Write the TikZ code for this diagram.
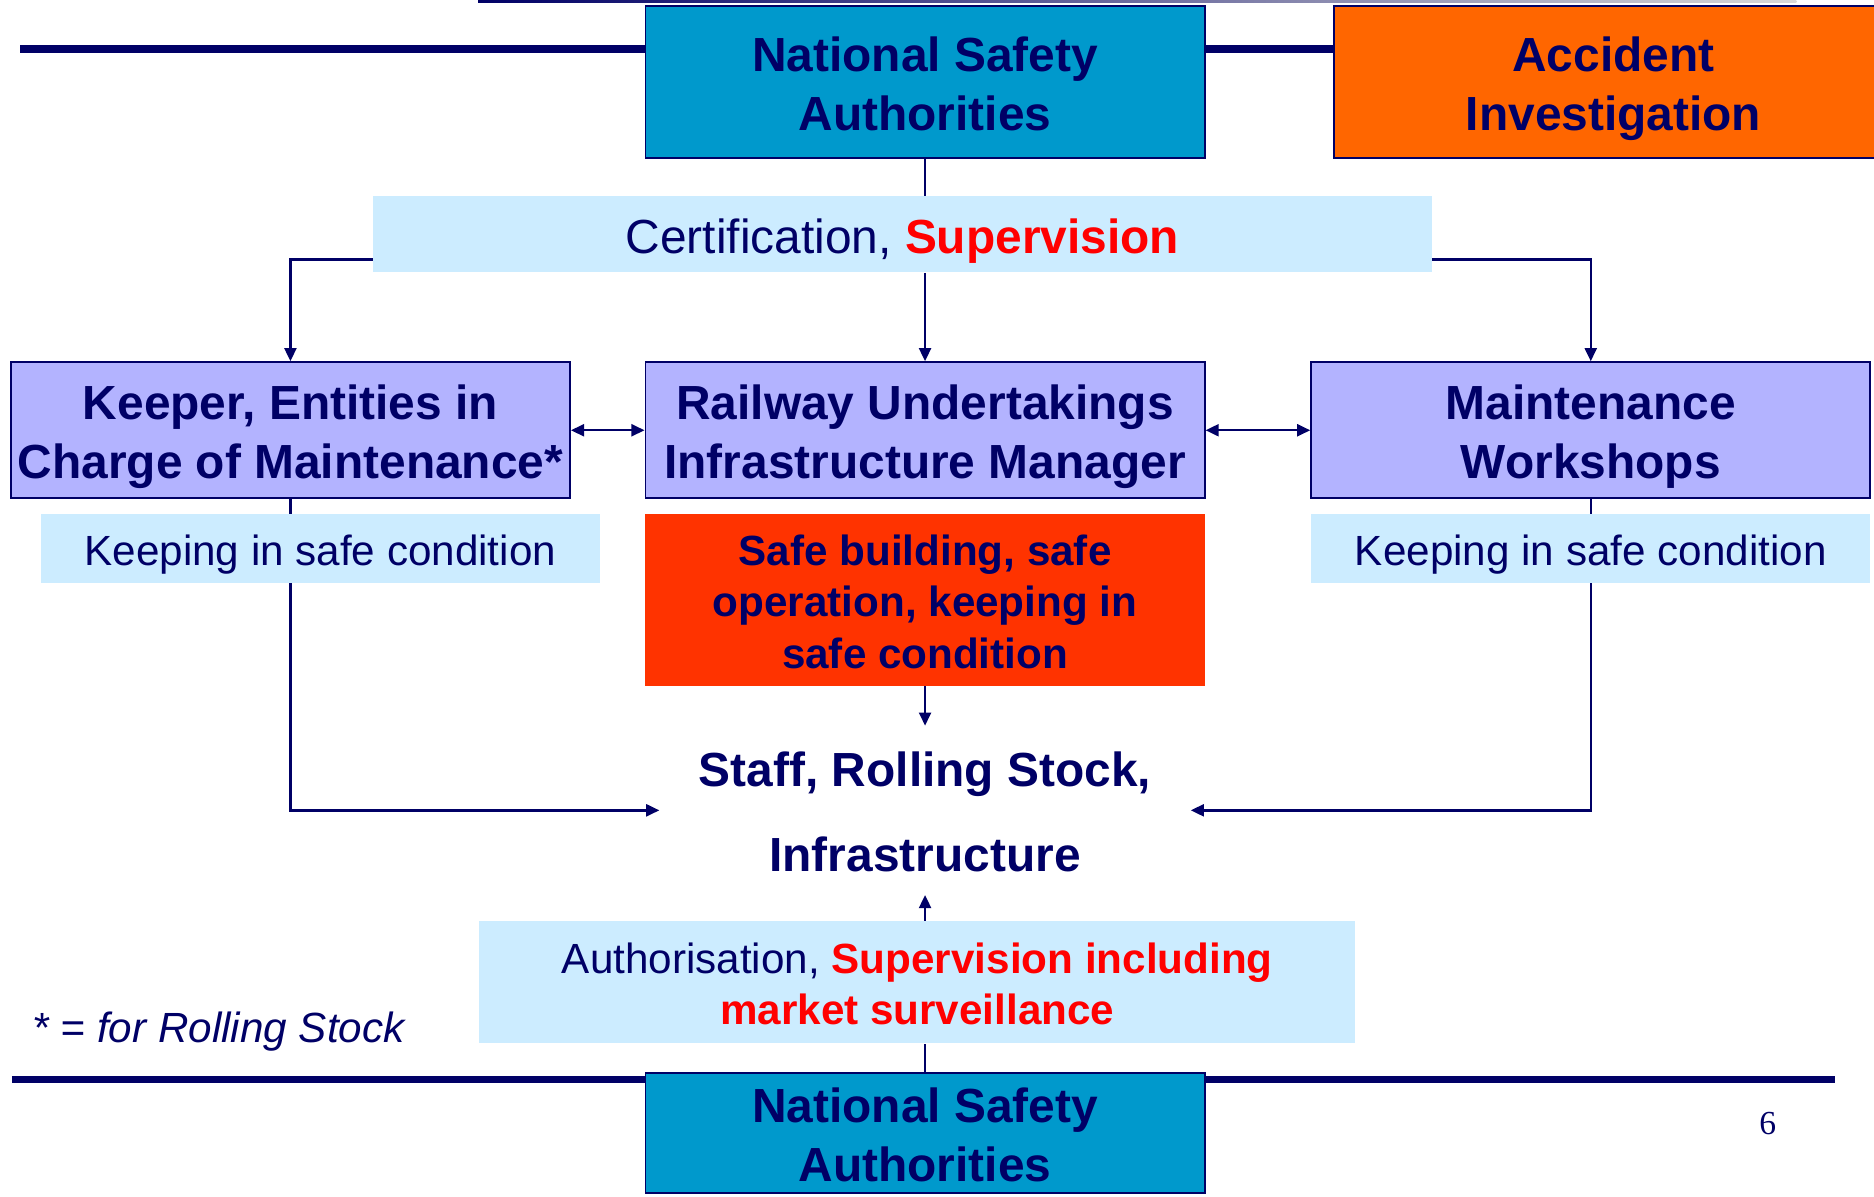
\documentclass[tikz,border=0pt]{standalone}
\usepackage{fontspec}
\setmainfont{Liberation Sans}
\newfontfamily\pagenumfont{Liberation Serif}
\usetikzlibrary{positioning,arrows.meta}

\definecolor{darknavy}{HTML}{000066}
\definecolor{nsablue}{HTML}{0099CC}
\definecolor{accorange}{HTML}{FF6600}
\definecolor{lilac}{HTML}{B3B3FF}
\definecolor{paleblue}{HTML}{CCECFF}
\definecolor{alertred}{HTML}{FF3300}
\definecolor{textred}{HTML}{FF0000}

\pgfdeclarelayer{background}
\pgfsetlayers{background,main}

\newcommand{\bigtext}{\fontsize{22.8}{27.9}\selectfont}
\newcommand{\smalltext}{\fontsize{20.1}{24.5}\selectfont}
\newcommand{\ls}{\rule[-0.21em]{0pt}{1.21em}}
\newcommand{\redbf}[1]{{\color{textred}\bfseries #1}}

\begin{document}
\begin{tikzpicture}[
    x=0.02cm, y=-0.02cm,
    every node/.style={
        align=center,
        inner sep=0pt,
        text=darknavy
    },
    authority/.style={draw=darknavy, line width=0.03cm, fill=nsablue, minimum width=9.36cm, font=\bigtext\bfseries},
    investigation/.style={draw=darknavy, line width=0.03cm, fill=accorange, minimum width=9.36cm, minimum height=2.54cm, font=\bigtext\bfseries},
    actor/.style={draw=darknavy, line width=0.03cm, fill=lilac, minimum width=9.36cm, minimum height=2.28cm, font=\bigtext\bfseries},
    task/.style={fill=paleblue, font=\smalltext},
    duty/.style={fill=alertred, minimum width=9.36cm, minimum height=2.88cm, font=\smalltext\bfseries},
    link/.style={line width=0.04cm, draw=darknavy},
    arrow/.style={link, -{Triangle[length=0.22cm, width=0.2cm]}},
    biarrow/.style={link, {Triangle[length=0.22cm, width=0.2cm]}-{Triangle[length=0.22cm, width=0.2cm]}},
    rule/.style={line width=0.12cm, draw=darknavy}
]
\useasboundingbox (0,0) rectangle (1568,1001);

% Top level
\node[authority, minimum height=2.54cm] (nsa) at (774,68.5) {\ls National Safety\\\ls Authorities};
\node[investigation] (acc) at (1350,68.5) {\ls Accident\\\ls Investigation};
\node[task, font=\bigtext, minimum width=17.72cm, minimum height=1.28cm] (cert) at (755,196) {\ls Certification, \redbf{Supervision}};

% Actors
\node[actor] (keeper) at (243,360) {\ls Keeper, Entities in\\\ls Charge of Maintenance*};
\node[actor] (ru) at (774,360) {\ls Railway Undertakings\\\ls Infrastructure Manager};
\node[actor] (maint) at (1331,360) {\ls Maintenance\\\ls Workshops};

% Tasks below the actors
\node[task, minimum width=9.36cm, minimum height=1.16cm] (keepleft) at (268,459) {\ls Keeping in safe condition};
\node[duty] (safe) at (774,502) {\ls Safe building, safe\\\ls operation, keeping in\\\ls safe condition};
\node[task, minimum width=9.36cm, minimum height=1.16cm] (keepright) at (1331,459) {\ls Keeping in safe condition};

% Object of the supervision
\node[minimum width=8.88cm, minimum height=2.82cm, font=\fontsize{22.8}{40.4}\selectfont\bfseries] (staff) at (774,678) {\ls Staff, Rolling Stock,\\\ls Infrastructure};

% Bottom level
\node[task, minimum width=14.66cm, minimum height=2.04cm] (auth) at (767.5,822) {\ls Authorisation, \redbf{Supervision including}\\\ls\redbf{market surveillance}};
\node[authority, minimum height=2cm] (nsabot) at (774,948) {\ls National Safety\\\ls Authorities};

\node[anchor=west, font=\smalltext\itshape] (note) at (27,858) {\ls * = for Rolling Stock};
\node[font=\fontsize{16}{18}\selectfont\pagenumfont] (pagenum) at (1479,940) {6};

\coordinate (topleft) at (17,41);
\coordinate (botleft) at (10,903);
\coordinate (botright) at (1535,903);

\begin{pgfonlayer}{background}
\shade[left color=darknavy, right color=black!15] (400,0) rectangle (1503,2.5);
\draw[rule] (topleft) -- (topleft -| nsa.west);
\draw[rule] (topleft -| nsa.east) -- (topleft -| acc.west);
\draw[rule] (botleft) -- (botright);

\draw[link] (nsa.south) -- (nsa.south |- cert.north);
\draw[arrow] (ru.north |- cert.south) -- (ru.north);
\draw[arrow] ([yshift=-0.42cm]cert.west) -| (keeper.north);
\draw[arrow] ([yshift=-0.42cm]cert.east) -| (maint.north);
\draw[biarrow] (keeper.east) -- (ru.west);
\draw[biarrow] (ru.east) -- (maint.west);
\draw[arrow] (keeper.south) |- (staff.west);
\draw[arrow] (maint.south) |- (staff.east);
\draw[arrow] (safe.south) -- (staff.north);
\draw[arrow] (auth.north -| staff.south) -- (staff.south);
\draw[link] (nsabot.north) -- (nsabot.north |- auth.south);
\end{pgfonlayer}

\end{tikzpicture}
\end{document}
